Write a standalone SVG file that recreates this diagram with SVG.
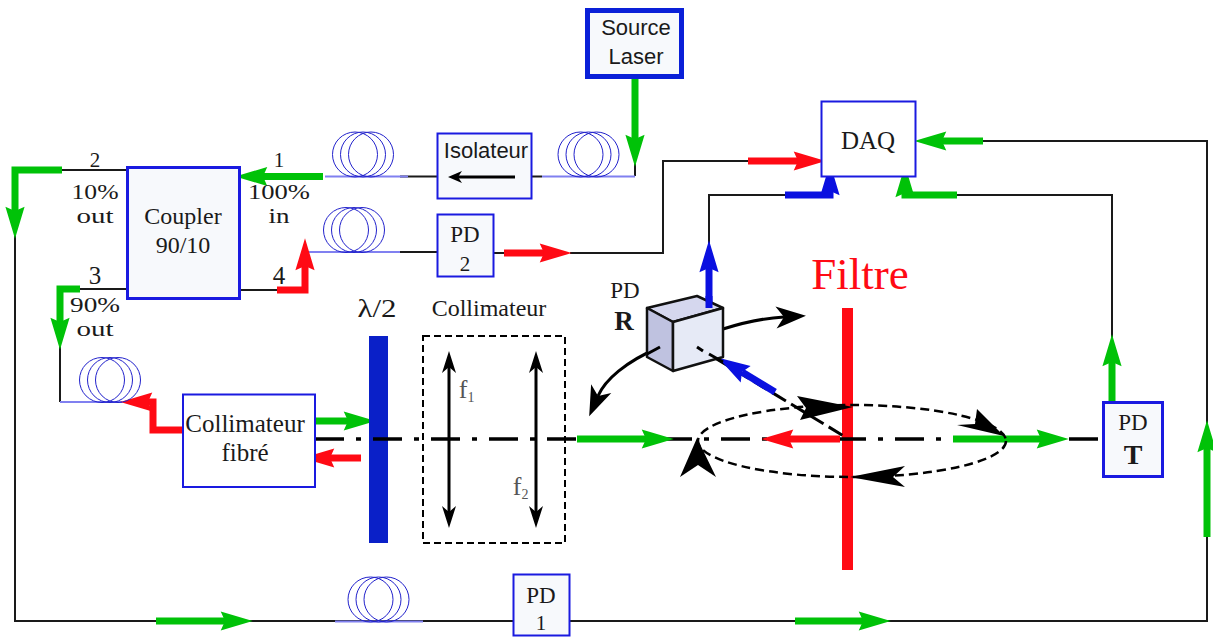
<svg xmlns="http://www.w3.org/2000/svg" width="1213" height="637" viewBox="0 0 1213 637">
<style>
text{font-family:"Liberation Serif","DejaVu Serif",serif;fill:#1a1a1a;text-anchor:middle}
.sans{font-family:"Liberation Sans",Arial,sans-serif;font-size:22px}
.s24{font-size:24px}.s21{font-size:21px}.s25{font-size:25px}.pd{font-size:23px}.num{font-size:21px}
.gr{fill:#555}
.box{fill:#fff;stroke:#1a1ae0;stroke-width:2}
.tint{fill:#f7f9fc}
.thick{stroke-width:5;stroke:#0a20d8}
.mid{stroke-width:3}
.w{fill:none;stroke:#1a1a1a;stroke-width:2}
.fib{fill:none;stroke:#8080f0;stroke-width:2}
.coil{fill:none;stroke:#2222cc;stroke-width:1}
.g,.r,.b{fill:none;stroke-width:7;stroke-linejoin:miter}
.g{stroke:#00c208;marker-end:url(#hg)}
.r{stroke:#ff0a14;marker-end:url(#hr)}
.b{stroke:#0a10e0;marker-end:url(#hb)}
.blk{fill:none;stroke:#000;stroke-width:3}
.head{fill:#000}
.dash{fill:none;stroke:#000;stroke-width:2.5;stroke-dasharray:9 5}
</style>
<defs>
<marker id="hg" markerUnits="userSpaceOnUse" markerWidth="32" markerHeight="20" viewBox="0 0 30 18" refX="4" refY="9" orient="auto" overflow="visible"><path d="M0,0L30,9L0,18L4,9Z" fill="#00c208"/></marker>
<marker id="hr" markerUnits="userSpaceOnUse" markerWidth="32" markerHeight="20" viewBox="0 0 30 18" refX="4" refY="9" orient="auto" overflow="visible"><path d="M0,0L30,9L0,18L4,9Z" fill="#ff0a14"/></marker>
<marker id="hb" markerUnits="userSpaceOnUse" markerWidth="32" markerHeight="20" viewBox="0 0 30 18" refX="4" refY="9" orient="auto" overflow="visible"><path d="M0,0L30,9L0,18L4,9Z" fill="#0a10e0"/></marker>
<marker id="hk" markerUnits="userSpaceOnUse" markerWidth="30" markerHeight="24" viewBox="0 0 30 24" refX="8" refY="12" orient="auto" overflow="visible"><path d="M0,1L30,12L0,23L8,12Z" fill="#000"/></marker>
<g id="coilshape"><circle cx="-8" cy="-22" r="22.5" class="coil"/><circle cx="0" cy="-22" r="22.5" class="coil"/><circle cx="8" cy="-22" r="22.5" class="coil"/></g>
</defs>

<g id="connectors">
<path class="w" d="M62,170H127M80,289H127M240,290H277M60,340V402M15,235V621H1207V141H980M1112,340V195H950M709,245V195H790M570,253H663V161H750M493,253H505M635,160V176M532,176.5H542M400,176.5H437M400,252H437"/>
<path class="fib" d="M325,176.5H408M542,176.5H635M308,252H400M60,402H122M335,621.5H423"/>
<path class="g" d="M635,78V139"/>
<path class="g" d="M323,176.5H263"/>
<path class="r" d="M277,290H305V266"/>
<path class="g" d="M62,170H15V211"/>
<path class="g" d="M80,289H60V322"/>
<path class="r" d="M183,430H153V402H148"/>
<path class="g" d="M315,421H348"/>
<path class="r" d="M361,458H330"/>
<path class="g" d="M156,621H225"/>
<path class="g" d="M795,621H863"/>
<path class="g" d="M1207,537V448"/>
<path class="g" d="M1112,401V362"/>
<path class="g" d="M957,195H905V193"/>
<path class="g" d="M983,141H942"/>
<path class="r" d="M504,253H544"/>
<path class="r" d="M748,161H798"/>
<path class="b" d="M785,195H830V191"/>
<path class="b" d="M709,308V268"/>
<path class="blk" d="M723,329C745,322 765,318 784,317" style="marker-end:url(#hk)"/>
<path class="blk" d="M660,347C625,362 605,380 598,396" style="marker-end:url(#hk)"/>
</g>

<g id="optics">
<rect id="lambda-plate" x="369" y="336" width="19" height="207" fill="#0a20c8"/>
<rect id="filter-bar" x="842" y="308" width="11" height="262" fill="#ff0a14"/>
<path d="M315,439H1102" fill="none" stroke="#000" stroke-width="3.5" stroke-dasharray="29 12 5 12"/>
<rect x="423" y="336" width="142" height="207" fill="none" stroke="#000" stroke-width="2" stroke-dasharray="7 4"/>
<path d="M449,362V518M536,362V518" class="blk" stroke-width="2.5"/>
<path class="head" d="M449,351L456,373L449,367L442,373Z"/>
<path class="head" d="M449,528L456,506L449,512L442,506Z"/>
<path class="head" d="M536,351L543,373L536,367L529,373Z"/>
<path class="head" d="M536,528L543,506L536,512L529,506Z"/>
<path class="g" d="M577,439H646"/>
<path class="r" d="M840,439H789"/>
<path class="g" d="M953,439H1041"/>
<ellipse cx="852" cy="441" rx="154" ry="36" class="dash"/>
<path d="M697,347L847,438" fill="none" stroke="#000" stroke-width="3" stroke-dasharray="16 6"/>
<path class="b" d="M775,392L742,372"/>
<path class="head" d="M853,407L797,396L806,408L800,420Z"/>
<path class="head" d="M1004,436L977,409L975,424L957,425Z"/>
<path class="head" d="M850,477L905,466L893,477L905,487Z"/>
<path class="head" d="M697,438L680,477L698,465L716,477Z"/>
</g>

<g id="cube">
<path d="M647,308L697,296L723,308L673,322Z" fill="#d5d7ee" stroke="#111" stroke-width="2.5" stroke-linejoin="round"/>
<path d="M647,308L673,322V371L647,357Z" fill="#bfc2e0" stroke="#111" stroke-width="2.5" stroke-linejoin="round"/>
<path d="M673,322L723,308V357L673,371Z" fill="#e6eaf6" stroke="#111" stroke-width="2.5" stroke-linejoin="round"/>
<path d="M709,308V296" stroke="#0a10e0" stroke-width="7" fill="none"/>
<path d="M660,347L647,354" class="blk"/>
<path d="M697,347L703,351M709,354L723,362" class="blk"/>
<text x="625" y="298" class="pd">PD</text>
<text x="624" y="330" font-size="27" font-weight="bold">R</text>
</g>

<g id="source-laser"><rect x="587.5" y="10.5" width="94" height="66" class="box tint thick"/><text x="636" y="35" class="sans">Source</text><text x="636" y="64" class="sans">Laser</text></g>
<g id="isolateur"><rect x="437.5" y="133.5" width="94" height="65" class="box tint"/><text x="486" y="158" class="sans">Isolateur</text><path d="M515,177H455" class="blk" stroke-width="2"/><path d="M448,177L462,171L458,177L462,183Z" class="head"/></g>
<g id="coil-a" transform="translate(588.5,176.5)"><use href="#coilshape"/></g>
<g id="coil-b" transform="translate(363,176.5)"><use href="#coilshape"/></g>
<g id="coil-c" transform="translate(354,252)"><use href="#coilshape"/></g>
<g id="coil-d" transform="translate(110,402)"><use href="#coilshape"/></g>
<g id="coil-e" transform="translate(378.5,621.5)"><use href="#coilshape"/></g>

<g id="daq"><rect x="821.5" y="101.5" width="94" height="75" class="box"/><text x="868" y="149" class="s25">DAQ</text></g>
<g id="pd2"><rect x="437.5" y="214.5" width="56" height="62" class="box tint"/><text x="465" y="242" class="pd">PD</text><text x="465" y="271" class="num">2</text></g>
<g id="pd1"><rect x="513.5" y="574.5" width="56" height="61" class="box tint"/><text x="541" y="603" class="pd">PD</text><text x="541" y="630" class="num">1</text></g>
<g id="pdt"><rect x="1103.5" y="402.5" width="59" height="74" class="box tint mid"/><text x="1133" y="430" class="pd">PD</text><text x="1133" y="464" font-size="28" font-weight="bold">T</text></g>

<g id="coupler"><rect x="127.5" y="167.5" width="112" height="131" class="box tint mid"/><text x="183" y="224" class="s24">Coupler</text><text x="183" y="253" class="s24">90/10</text></g>
<g id="collimateur-fibre"><rect x="183" y="394.5" width="132" height="92.5" class="box"/><text x="245" y="432" class="s25">Collimateur</text><text x="245" y="461" class="s25">fibré</text></g>

<g id="labels">
<text x="95" y="167" class="num">2</text>
<text x="95" y="199" class="s21" textLength="47" lengthAdjust="spacingAndGlyphs">10%</text>
<text x="95" y="223" class="s21" textLength="37" lengthAdjust="spacingAndGlyphs">out</text>
<text x="279" y="167" class="num">1</text>
<text x="279" y="199" class="s21" textLength="62" lengthAdjust="spacingAndGlyphs">100%</text>
<text x="279" y="223" class="s21" textLength="21" lengthAdjust="spacingAndGlyphs">in</text>
<text x="95" y="284" class="s25">3</text>
<text x="95" y="312" class="s21" textLength="50" lengthAdjust="spacingAndGlyphs">90%</text>
<text x="95" y="336" class="s21" textLength="37" lengthAdjust="spacingAndGlyphs">out</text>
<text x="279" y="284" class="s25">4</text>
<text x="377" y="317" class="s25" textLength="39" lengthAdjust="spacingAndGlyphs">λ/2</text>
<text x="489" y="316" class="s24">Collimateur</text>
<text x="860" y="289" font-size="45" style="fill:#ff0a14">Filtre</text>
<text x="463" y="398" font-size="26" class="gr">f</text><text x="471" y="402" font-size="14" class="gr">1</text>
<text x="517" y="495" font-size="26" class="gr">f</text><text x="525" y="499" font-size="14" class="gr">2</text>
</g>
</svg>
